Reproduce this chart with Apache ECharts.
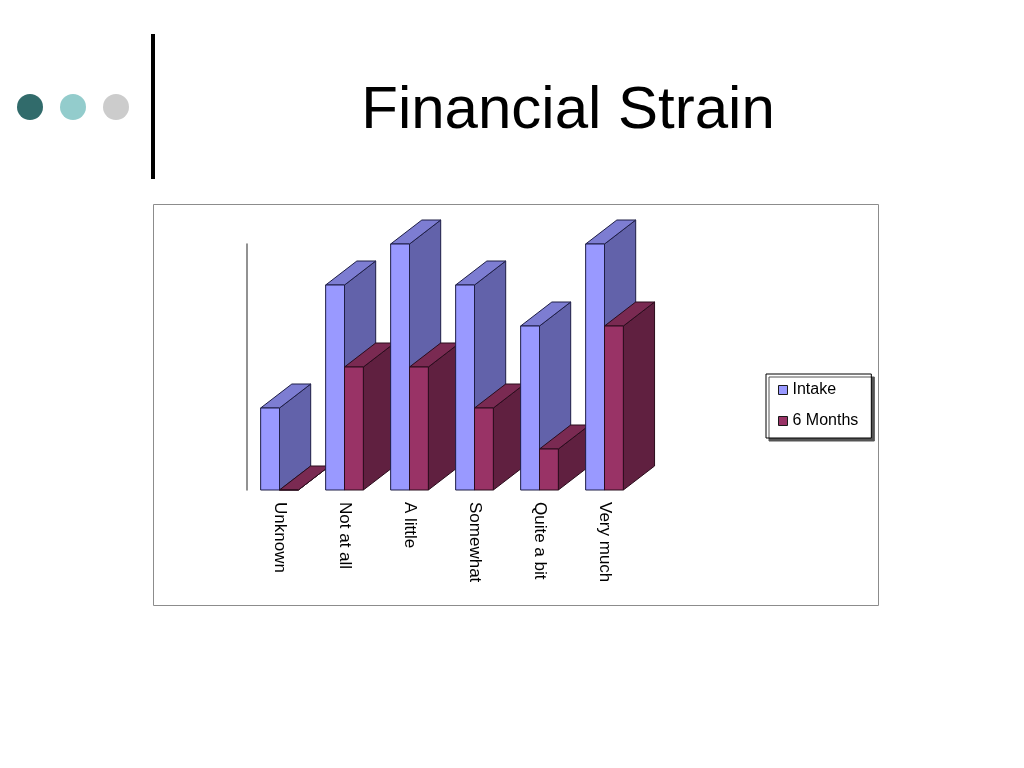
<!DOCTYPE html>
<html>
<head>
<meta charset="utf-8">
<script src="https://cdn.jsdelivr.net/npm/echarts@6/dist/echarts.min.js"></script>
<style>
    html, body {margin: 0; padding: 0; background: #fff;}
    #chart {width: 1024px; height: 768px;}
</style>
</head>
<body>
<div id="chart"></div>
<script>
// chart data
var categories = ['Unknown', 'Not at all', 'A little', 'Somewhat', 'Quite a bit', 'Very much'];
var intake = [2, 5, 6, 5, 4, 6];
var sixMonths = [0, 3, 3, 2, 1, 4];
var seriesNames = ['Intake', '6 Months'];

var palette = {
    'Intake': {front: '#9999ff', top: '#7d7dd2', side: '#6262aa', edge: '#1e1e46'},
    '6 Months': {front: '#993366', top: '#7a2a52', side: '#602040', edge: '#2a0c1c'}
};

// one 3d column: front face, top face, right side face
function makeBar(slot, color) {
    return function (params, api) {
        var idx = api.value(0);
        var top = api.coord([idx, api.value(1)]);
        var base = api.coord([idx, 0]);
        var band = api.size([1, 0])[0];
        var w = band * 0.29;
        var dx = band * 0.48;
        var dy = -24;
        var x0 = top[0] - w + slot * w;
        var x1 = x0 + w;
        var yt = top[1];
        var yb = base[1];
        var style = {lineWidth: 1, stroke: color.edge, lineJoin: 'round'};
        var z = idx * 10 + slot * 5;
        return {
            type: 'group',
            children: [
                {
                    type: 'polygon', z2: z,
                    shape: {points: [[x1, yt], [x1 + dx, yt + dy], [x1 + dx, yb + dy], [x1, yb]]},
                    style: Object.assign({fill: color.side}, style)
                },
                {
                    type: 'polygon', z2: z + 1,
                    shape: {points: [[x0, yt], [x0 + dx, yt + dy], [x1 + dx, yt + dy], [x1, yt]]},
                    style: Object.assign({fill: color.top}, style)
                },
                {
                    type: 'polygon', z2: z + 2,
                    shape: {points: [[x0, yt], [x1, yt], [x1, yb], [x0, yb]]},
                    style: Object.assign({fill: color.front}, style)
                }
            ]
        };
    };
}

function toData(values) {
    return values.map(function (v, i) {
        return [i, v];
    });
}

var chart = echarts.init(document.getElementById('chart'));

chart.setOption({
    animation: false,
    backgroundColor: '#fff',
    title: {
        text: 'Financial Strain',
        left: 563,
        top: 76,
        textAlign: 'center',
        textStyle: {
            fontFamily: 'Liberation Sans, Arial, sans-serif',
            fontSize: 60,
            fontWeight: 'normal',
            color: '#000'
        }
    },
    graphic: [
        {type: 'circle', shape: {cx: 30, cy: 107, r: 13}, style: {fill: '#316b6b'}},
        {type: 'circle', shape: {cx: 73, cy: 107, r: 13}, style: {fill: '#93cccc'}},
        {type: 'circle', shape: {cx: 116, cy: 107, r: 13}, style: {fill: '#cccccc'}},
        {type: 'rect', shape: {x: 151, y: 34, width: 4, height: 145}, style: {fill: '#000'}},
        {
            type: 'rect', z: -1,
            shape: {x: 153.5, y: 204.5, width: 725, height: 401},
            style: {fill: 'none', stroke: '#8c8c8c', lineWidth: 1}
        }
    ],
    legend: {
        orient: 'vertical',
        left: 766,
        top: 374,
        padding: [7, 13, 8, 12],
        itemGap: 13,
        itemWidth: 9,
        itemHeight: 9,
        itemTextGap: 4,
        icon: 'rect',
        backgroundColor: '#fff',
        borderColor: '#000',
        borderWidth: 1,
        borderRadius: 0,
        shadowColor: '#555',
        shadowBlur: 0,
        shadowOffsetX: 3,
        shadowOffsetY: 3,
        textStyle: {
            fontFamily: 'Liberation Sans, Arial, sans-serif',
            fontSize: 16,
            color: '#000',
            lineHeight: 18
        },
        data: seriesNames.map(function (name) {
            return {
                name: name,
                itemStyle: {color: palette[name].front, borderColor: '#1a1a1a', borderWidth: 1}
            };
        })
    },
    grid: {left: 247, top: 244, width: 390, height: 246},
    xAxis: {
        type: 'category',
        data: categories,
        boundaryGap: true,
        axisLine: {show: false},
        axisTick: {show: false},
        axisLabel: {
            rotate: -90,
            margin: 12,
            fontFamily: 'Liberation Sans, Arial, sans-serif',
            fontSize: 17,
            color: '#000'
        }
    },
    yAxis: {
        type: 'value',
        min: 0,
        max: 6,
        interval: 1,
        axisLine: {show: true, lineStyle: {color: '#6e6e6e', width: 1.5}},
        axisTick: {show: false},
        axisLabel: {show: false},
        splitLine: {show: false}
    },
    series: [
        {
            name: seriesNames[0],
            type: 'custom',
            renderItem: makeBar(0, palette[seriesNames[0]]),
            itemStyle: {color: palette[seriesNames[0]].front},
            encode: {x: 0, y: 1},
            data: toData(intake)
        },
        {
            name: seriesNames[1],
            type: 'custom',
            renderItem: makeBar(1, palette[seriesNames[1]]),
            itemStyle: {color: palette[seriesNames[1]].front},
            encode: {x: 0, y: 1},
            data: toData(sixMonths)
        }
    ]
});
</script>
</body>
</html>
